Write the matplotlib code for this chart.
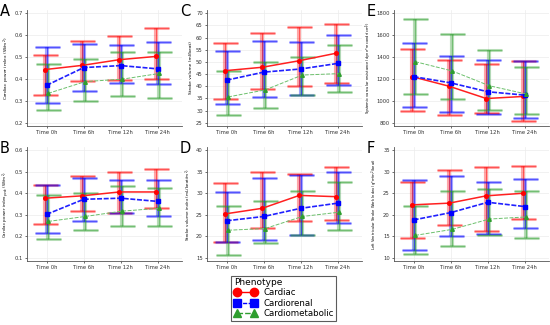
import matplotlib.pyplot as plt
from matplotlib.lines import Line2D

# eixos e rotulos
times = ['Time 0h', 'Time 6h', 'Time 12h', 'Time 24h']
groups = ['Cardiac', 'Cardiorenal', 'Cardiometabolic']

# A - cardiac power index
cpi_mean = [[0.443, 0.462, 0.488, 0.503], [0.371, 0.452, 0.461, 0.446], [0.334, 0.388, 0.399, 0.425]]
cpi_low = [[0.325, 0.390, 0.393, 0.402], [0.290, 0.343, 0.383, 0.376], [0.258, 0.298, 0.320, 0.314]]
cpi_high = [[0.510, 0.575, 0.597, 0.635], [0.545, 0.558, 0.553, 0.571], [0.466, 0.493, 0.524, 0.525]]

# B - cardiac power index peak
cpip_mean = [[0.377, 0.388, 0.406, 0.406], [0.302, 0.372, 0.377, 0.362], [0.269, 0.292, 0.317, 0.330]]
cpip_low = [[0.255, 0.318, 0.309, 0.333], [0.213, 0.272, 0.308, 0.295], [0.188, 0.230, 0.249, 0.250]]
cpip_high = [[0.437, 0.478, 0.500, 0.513], [0.440, 0.472, 0.463, 0.463], [0.390, 0.403, 0.436, 0.424]]

# C - stroke volume
sv_mean = [[46.4, 47.8, 50.5, 53.6], [42.5, 45.8, 47.1, 49.4], [35.6, 38.5, 44.6, 45.2]]
sv_low = [[34.6, 39.0, 40.1, 41.2], [32.9, 35.5, 36.3, 40.7], [28.0, 31.0, 36.3, 37.7]]
sv_high = [[57.6, 61.8, 64.4, 65.4], [54.6, 58.7, 58.2, 60.9], [46.4, 49.9, 52.1, 56.9]]

# D - stroke volume index
svi_mean = [[25.2, 26.5, 29.5, 29.2], [23.6, 24.6, 26.5, 27.7], [21.4, 21.8, 24.6, 25.6]]
svi_low = [[18.7, 22.0, 23.6, 23.7], [18.7, 19.2, 20.4, 23.1], [15.6, 18.5, 20.4, 21.5]]
svi_high = [[32.3, 35.0, 34.4, 36.0], [30.4, 33.6, 34.2, 35.0], [27.1, 28.1, 30.6, 32.5]]

# E - systemic vascular resistance
svr_mean = [[1221, 1133, 1021, 1040], [1221, 1164, 1083, 1052], [1358, 1273, 1138, 1062]]
svr_low = [[910, 875, 886, 815], [940, 900, 880, 840], [1064, 1013, 917, 880]]
svr_high = [[1475, 1375, 1337, 1362], [1527, 1408, 1371, 1362], [1750, 1610, 1469, 1310]]

# F - LV stroke work index
lvswi_mean = [[22.3, 22.7, 24.4, 25.0], [18.8, 20.5, 22.9, 21.9], [15.2, 16.6, 19.0, 19.5]]
lvswi_low = [[14.5, 17.6, 16.3, 18.9], [11.8, 15.0, 15.5, 17.0], [10.8, 12.8, 15.4, 14.6]]
lvswi_high = [[27.7, 30.5, 31.1, 31.3], [28.0, 29.0, 27.6, 28.3], [22.1, 25.5, 26.1, 25.6]]

cores = ['#ff0000', '#0000ff', '#2e9e2e']
cores_linha = ['#ff2020', '#2020ff', '#6cc06c']
marcadores = ['o', 's', '^']
estilos = ['-', (0, (3, 1)), (0, (4, 1.5))]
larguras = [1.1, 1.2, 0.7]
desloc = [-0.04, 0.0, 0.04]

paineis = [
    ('A', cpi_mean, cpi_low, cpi_high, 'Cardiac power index (W/m$^2$)', (0.2, 0.7), 0.1, 27, 10, 3.2),
    ('B', cpip_mean, cpip_low, cpip_high, 'Cardiac power index$_{peak}$ (W/m$^2$)', (0.1, 0.6), 0.1, 27, 147, 3.0),
    ('C', sv_mean, sv_low, sv_high, 'Stroke volume (ml/beat)', (25, 70), 5, 207, 10, 3.2),
    ('D', svi_mean, svi_low, svi_high, 'Stroke volume index (mL/beat/m$^2$)', (15, 40), 5, 207, 147, 3.0),
    ('E', svr_mean, svr_low, svr_high, 'Systemic vascular resistance (dyne*seconds/cm$^5$)', (800, 1800), 200, 394, 10, 2.6),
    ('F', lvswi_mean, lvswi_low, lvswi_high, 'Left Ventricular Stroke Work Index (g*m/m$^2$/beat)', (10, 35), 5, 394, 147, 2.6),
]

W, H = 550, 325
fig = plt.figure(figsize=(5.5, 3.25), dpi=100)

for letra, media, baixo, alto, rotulo, (y0, y1), passo, px, py, fs in paineis:
    alt = 116 if py == 10 else 114
    ax = fig.add_axes([px / W, 1 - (py + alt) / H, 155 / W, alt / H])
    pad = 0.03 * (y1 - y0)
    for i in range(3):
        xs = [k + desloc[i] for k in range(4)]
        erro = [[m - l for m, l in zip(media[i], baixo[i])], [h - m for m, h in zip(media[i], alto[i])]]
        # barras largas e claras
        ax.errorbar(xs, media[i], yerr=erro, fmt='none', ecolor=cores[i], alpha=0.35,
                    elinewidth=3, capsize=9, capthick=2.2, zorder=2)
        ax.errorbar(xs, media[i], yerr=erro, fmt='none', ecolor=cores[i], alpha=0.7,
                    elinewidth=0.5, capsize=9, capthick=0.5, zorder=3)
        ax.plot(xs, media[i], color=cores_linha[i], linestyle=estilos[i], linewidth=larguras[i],
                marker=marcadores[i], markersize=2.6, markerfacecolor=cores[i],
                markeredgecolor=cores[i], zorder=4)
    ax.set_xlim(-0.53, 3.65)
    ax.set_ylim(y0 - pad, y1 + pad)
    ticks = [y0 + passo * k for k in range(int(round((y1 - y0) / passo)) + 1)]
    ax.set_yticks(ticks)
    if passo < 1:
        ax.set_yticklabels(['%.1f' % t for t in ticks])
    ax.set_xticks(range(4))
    ax.set_xticklabels(times)
    ax.tick_params(labelsize=3.8, length=1.5, width=0.5, pad=1.5, colors='#333333')
    ax.grid(True, color='#ececec', linewidth=0.5)
    ax.set_axisbelow(True)
    for lado in ['top', 'right']:
        ax.spines[lado].set_visible(False)
    for lado in ['left', 'bottom']:
        ax.spines[lado].set_linewidth(0.6)
        ax.spines[lado].set_color('#555555')
    ax.set_ylabel(rotulo, fontsize=fs, labelpad=2)
    fig.text((px - 27) / W, 1 - (py - 6) / H, letra, fontsize=10.5, va='top', ha='left')

# legenda
handles = [Line2D([0], [0], color=cores[i], linestyle=estilos[i], linewidth=1,
                  marker=marcadores[i], markersize=6) for i in range(3)]
leg = fig.legend(handles, groups, title='Phenotype', loc='center',
                 bbox_to_anchor=(0.516, 0.083), fontsize=6.2, title_fontsize=6.5,
                 frameon=True, fancybox=False, edgecolor='#333333', borderpad=0.3,
                 labelspacing=0.15, handlelength=2.6, handletextpad=0.8, numpoints=2)
leg._legend_box.align = 'left'
leg.get_frame().set_linewidth(0.8)

fig.savefig('out.png', dpi=100)
